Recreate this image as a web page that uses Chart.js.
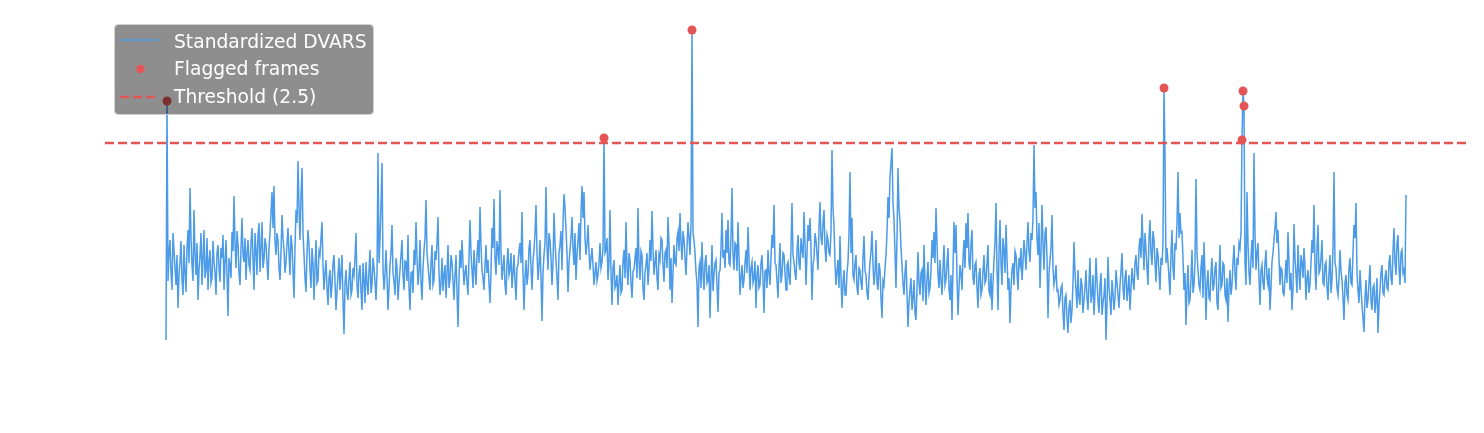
<!DOCTYPE html>
<html>
<head>
<meta charset="utf-8">
<script src="https://cdn.jsdelivr.net/npm/chart.js@4/dist/chart.umd.min.js"></script>
<style>
  html, body { margin: 0; padding: 0; background: #ffffff; }
  #wrap { position: relative; width: 1484px; height: 433px; }
  #c { position: absolute; left: 0; top: 0; }
  #leg { position: absolute; left: 0; top: 0; pointer-events: none; }
</style>
</head>
<body>
<div id="wrap">
  <canvas id="c" width="1484" height="433"></canvas>
  <svg id="leg" width="1484" height="433" xmlns="http://www.w3.org/2000/svg"></svg>
</div>
<script>
// ---- data (one value per frame) ----
const dvarsValues = [
0.53,2.92,1.12,1.40,1.53,1.20,1.03,1.60,1.43,1.25,1.08,1.38,0.85,1.18,1.31,1.52,1.13,0.98,1.48,1.20,
1.01,1.45,1.63,1.30,2.05,1.55,1.28,1.12,1.83,1.40,1.18,1.50,0.93,1.22,1.38,1.60,1.08,1.35,1.63,1.15,
1.23,1.55,1.03,1.32,1.43,1.10,1.15,1.52,1.31,1.20,0.98,1.40,1.48,1.25,1.11,1.45,1.35,1.58,1.03,1.30,
1.53,1.18,0.77,1.35,1.28,1.15,1.61,1.42,1.97,1.50,1.25,1.62,1.48,1.20,1.08,1.45,1.75,1.38,1.31,1.55,
1.13,1.40,1.53,1.28,1.23,1.50,1.65,1.35,1.03,1.60,1.43,1.18,1.58,1.70,1.21,1.46,1.71,1.25,1.33,1.55,
1.48,1.30,1.13,1.45,1.61,1.80,2.01,1.65,2.07,1.52,1.38,1.60,1.53,1.25,1.13,1.42,1.78,1.55,1.43,1.20,
1.31,1.50,1.65,1.40,1.18,1.58,1.48,1.22,0.95,1.45,1.83,1.70,2.32,1.85,1.53,1.98,2.25,1.60,1.38,1.15,
1.01,1.40,1.63,1.48,1.23,1.05,1.45,1.30,0.93,1.25,1.53,1.10,1.13,1.42,1.38,1.55,1.71,1.28,1.03,1.20,
1.33,1.05,0.88,1.15,1.23,0.95,1.08,1.30,1.38,1.12,0.83,1.02,1.18,1.35,1.03,1.20,1.38,0.92,0.59,1.10,
1.23,1.00,0.93,1.15,1.31,0.98,1.03,1.25,1.18,1.35,1.60,1.08,0.95,1.20,1.28,1.02,0.83,1.30,1.13,0.90,
1.31,1.10,0.98,1.22,1.43,1.00,1.08,1.35,1.25,1.12,0.93,1.20,2.40,1.30,1.53,1.90,2.30,1.25,1.03,1.18,
1.43,1.15,0.83,1.05,1.28,1.40,1.68,1.20,1.11,0.98,1.35,1.25,0.93,1.10,1.23,1.38,1.53,1.18,1.03,1.32,
1.31,1.12,1.58,1.05,0.83,1.20,1.21,1.00,1.43,1.28,1.71,1.35,1.08,1.22,1.53,1.10,0.93,1.25,1.43,1.55,
1.93,1.40,1.28,1.15,1.03,1.30,1.48,1.08,1.13,1.42,1.33,1.50,1.76,1.20,0.98,1.10,1.35,1.02,1.18,1.28,
0.95,1.20,1.48,1.05,1.13,1.38,1.31,1.12,0.93,1.18,1.38,1.00,0.66,1.15,1.43,1.25,1.53,1.30,1.08,1.20,
1.28,1.10,0.98,1.35,1.73,1.40,1.23,1.05,1.43,1.25,1.08,1.38,1.53,1.30,1.86,1.48,1.23,1.15,1.03,1.28,
1.48,1.20,1.33,1.10,0.90,1.22,1.65,1.45,1.94,1.35,1.18,1.52,1.43,1.28,2.03,1.40,1.13,1.25,1.38,1.08,
0.98,1.30,1.45,1.18,1.23,1.40,1.05,1.20,1.38,1.12,0.93,1.25,1.28,1.42,1.50,1.30,1.81,1.20,0.83,1.15,
1.33,1.08,1.18,1.45,1.53,1.25,1.03,1.32,1.43,1.60,1.88,1.40,1.13,1.28,1.53,1.15,0.72,1.20,1.38,1.50,
2.06,1.45,1.23,1.60,1.53,1.35,1.08,1.30,1.80,1.50,1.33,1.15,0.93,1.40,1.48,1.62,1.23,1.70,1.99,1.85,
1.63,1.40,1.01,1.30,1.43,1.55,1.76,1.45,1.28,1.60,1.13,1.38,1.53,1.70,1.33,1.80,2.07,1.75,2.01,1.55,
1.38,1.50,1.68,1.42,1.23,1.35,1.45,1.28,1.08,1.20,1.31,1.12,1.18,1.30,1.50,1.25,1.31,1.45,2.55,1.40,
1.43,1.55,1.13,1.30,1.83,1.20,0.88,1.25,1.33,1.05,1.08,1.18,0.88,1.10,1.28,1.00,1.03,1.32,1.43,1.15,
1.71,1.25,1.08,1.40,1.33,1.10,0.95,1.22,1.23,1.35,1.45,1.15,1.85,1.30,1.13,1.42,1.38,1.05,0.93,1.20,
1.28,1.40,1.08,1.25,1.53,1.32,1.82,1.45,1.18,1.30,1.43,1.15,1.03,1.38,1.33,1.55,1.53,1.28,1.11,1.40,
1.43,1.25,1.76,1.48,1.03,1.35,0.90,1.20,1.48,1.30,1.28,1.55,1.61,1.42,1.80,1.50,1.33,1.62,1.53,1.35,
1.18,1.45,1.71,1.55,1.38,1.70,3.63,1.60,1.53,1.40,1.21,1.10,0.66,1.25,1.31,1.05,1.51,1.20,1.03,1.30,
1.38,1.10,1.13,1.28,0.75,1.15,1.48,1.02,1.18,1.30,1.33,1.08,0.81,1.20,1.23,1.45,1.80,1.35,1.43,1.25,
1.63,1.40,1.73,1.30,1.28,1.55,2.05,1.38,1.23,1.50,1.48,1.22,1.71,1.35,0.98,1.15,1.28,1.05,1.13,1.30,
1.43,1.20,1.66,1.35,1.03,1.25,1.31,1.10,1.15,1.32,0.85,1.18,1.28,1.05,1.08,1.30,1.38,1.15,0.80,1.22,
1.23,1.05,1.43,1.20,1.08,1.35,1.58,1.45,1.88,1.30,1.28,1.12,0.95,1.25,1.50,1.10,1.18,1.40,1.38,1.20,
1.03,1.28,1.31,1.15,1.08,1.45,1.90,1.38,1.31,1.20,1.13,1.42,1.58,1.30,1.23,1.55,1.43,1.35,1.81,1.50,
1.08,1.40,1.68,1.52,1.75,1.45,0.93,1.28,1.35,1.60,1.53,1.38,1.23,1.65,1.91,1.55,1.48,1.70,1.83,1.45,
1.31,1.58,1.53,1.40,1.38,1.62,2.43,1.85,1.68,1.30,1.08,1.22,1.33,1.05,1.57,1.15,0.85,1.10,1.23,0.98,
0.98,1.20,1.31,1.60,2.21,1.40,1.75,1.18,1.13,1.30,1.38,1.05,0.98,1.25,1.23,1.10,1.03,1.35,1.57,1.22,
1.18,1.00,0.93,1.15,1.31,1.42,1.62,1.28,1.08,1.20,1.53,1.10,1.03,1.30,1.23,0.95,0.75,1.12,1.08,1.25,
1.38,1.60,1.96,1.75,2.16,2.30,2.45,1.90,1.75,1.40,1.05,1.55,2.25,1.85,1.71,1.45,1.28,1.10,0.98,1.20,
1.33,1.00,0.66,0.90,1.03,1.15,0.83,0.95,1.13,0.80,0.73,1.05,1.41,1.10,0.98,1.20,1.23,0.92,1.48,1.10,
0.88,1.15,1.31,1.00,1.05,1.22,1.53,1.35,1.61,1.30,1.85,1.50,1.18,1.05,1.33,1.12,0.98,1.25,1.48,1.08,
1.13,1.30,1.45,1.05,0.93,1.18,0.73,1.25,1.71,1.40,1.68,1.15,0.78,1.05,1.28,1.20,1.03,1.35,1.53,1.25,
1.70,1.45,1.80,1.30,1.23,1.50,1.63,1.15,1.08,1.28,1.31,1.05,0.85,1.18,1.25,0.98,1.03,1.22,1.38,1.10,
1.13,1.30,1.48,1.02,0.98,1.20,0.83,1.10,1.33,1.50,1.90,1.25,0.83,1.40,1.73,1.30,1.08,1.55,1.43,1.20,
1.68,1.35,1.03,1.15,0.70,1.05,1.23,1.30,1.08,1.42,1.38,1.20,1.03,1.35,1.28,1.45,1.13,1.30,1.53,1.40,
1.23,1.50,1.71,1.42,1.31,1.60,1.53,1.75,2.48,1.85,2.01,1.55,1.38,1.70,1.05,1.40,1.88,1.50,1.23,1.60,
1.66,1.35,0.75,1.20,1.33,1.45,1.78,1.25,1.08,1.15,1.28,1.02,1.03,0.88,0.93,1.05,1.08,0.80,0.63,0.95,
0.98,0.75,0.60,0.85,0.93,0.70,0.83,1.10,1.51,1.20,1.03,0.85,1.23,0.95,0.88,1.15,1.08,0.80,0.93,1.05,
1.23,0.95,0.83,1.10,1.35,0.90,0.98,1.18,0.78,1.00,1.35,1.12,0.93,0.80,1.08,1.20,0.78,0.90,0.98,1.15,
0.53,0.88,1.36,1.05,0.93,0.78,1.13,1.00,0.83,0.95,1.23,1.10,0.98,0.85,1.08,1.22,1.40,1.05,0.93,1.15,
1.23,0.92,1.03,1.18,0.83,1.05,1.25,1.12,1.03,1.30,1.38,1.20,1.13,1.45,1.55,1.35,1.79,1.50,1.23,1.60,
1.43,1.25,1.08,1.55,1.73,1.40,1.28,1.62,1.53,1.30,1.11,1.45,1.38,1.20,1.03,1.35,1.28,1.50,3.05,2.36,
1.30,1.45,1.31,1.15,0.98,1.40,1.63,1.25,1.13,1.50,1.43,1.70,2.21,1.55,1.80,1.60,1.61,1.35,1.03,1.20,
0.68,1.05,1.28,0.90,0.93,1.15,1.43,1.00,1.08,1.30,2.14,1.40,1.23,1.08,1.03,1.25,1.38,0.95,1.51,1.18,
0.73,1.10,1.23,0.95,0.93,1.20,1.35,1.02,1.08,1.25,1.31,0.90,0.83,1.15,1.48,1.05,1.08,1.30,1.28,0.98,
0.93,1.15,0.71,1.05,1.23,0.98,1.08,1.30,1.48,1.20,1.03,1.35,1.28,1.50,1.45,1.60,2.53,3.02,2.87,1.30,
1.08,2.01,1.50,1.20,1.08,1.35,1.53,1.25,2.40,1.60,1.23,1.40,1.50,1.15,0.88,1.22,1.28,1.10,1.03,1.30,
1.43,1.15,1.08,1.25,0.83,1.05,1.31,1.40,1.53,1.65,1.81,1.50,1.63,1.35,1.08,1.25,1.23,1.00,0.98,1.15,
1.33,1.10,1.61,1.30,1.03,1.20,0.83,1.05,1.69,1.35,1.18,1.00,1.48,1.22,1.03,1.38,1.31,1.15,1.45,1.25,
0.93,1.15,1.23,1.00,1.08,1.30,1.53,1.40,1.88,1.25,1.03,1.45,1.68,1.20,1.23,1.35,1.53,1.10,1.08,1.28,
1.31,1.05,0.93,1.20,1.38,1.00,1.13,1.45,2.21,1.30,1.25,1.05,0.98,1.15,1.43,1.22,1.13,0.95,0.73,1.10,
1.18,0.98,0.93,1.25,1.35,1.10,1.08,1.40,1.68,1.55,1.90,1.20,1.03,0.90,1.23,1.05,0.88,0.75,0.61,0.95,
1.13,0.85,0.93,1.10,1.28,0.92,0.83,1.05,1.08,0.80,0.93,1.15,0.60,0.88,1.03,1.20,1.28,1.00,0.98,1.15,
1.23,1.05,1.03,1.30,1.38,1.15,1.08,1.42,1.65,1.30,1.18,1.50,1.58,1.25,1.08,1.40,1.43,1.20,1.23,1.10,
1.98
];
const flaggedFrames = [1, 438, 526, 998, 1076, 1077, 1078];
const thresholdValue = 2.5;
const legendLabels = ["Standardized DVARS", "Flagged frames", "Threshold (2.5)"];

// ---- styling ----
const BLUE = "#4c9be8";
const RED = "#e25656";
const lastFrame = dvarsValues.length - 1;
const xPad = lastFrame * 0.0492;
const xMin = -xPad, xMax = lastFrame + xPad;

const seriesPoints = dvarsValues.map((v, i) => ({ x: i, y: v }));
const flaggedPoints = flaggedFrames.map(i => ({ x: i, y: dvarsValues[i] }));
const thresholdPoints = [{ x: xMin, y: thresholdValue }, { x: xMax, y: thresholdValue }];

new Chart(document.getElementById("c"), {
  type: "line",
  data: {
    datasets: [
      { label: legendLabels[1], type: "scatter", data: flaggedPoints, order: 0,
        pointRadius: 4.5, pointBackgroundColor: RED, pointBorderWidth: 0, showLine: false },
      { label: legendLabels[2], data: thresholdPoints, order: 1, borderColor: RED,
        borderWidth: 2.3, borderDash: [9, 4], pointRadius: 0, fill: false },
      { label: legendLabels[0], data: seriesPoints, order: 2, borderColor: BLUE,
        borderWidth: 1.5, pointRadius: 0, tension: 0, fill: false }
    ]
  },
  options: {
    responsive: false,
    devicePixelRatio: 1,
    animation: false,
    events: [],
    layout: { autoPadding: false, padding: { left: 105, right: 17, top: 0, bottom: 40 } },
    plugins: { legend: { display: false }, tooltip: { enabled: false }, title: { display: false } },
    scales: {
      x: { type: "linear", min: xMin, max: xMax, display: false },
      y: { type: "linear", min: 0, max: 3.93, display: false }
    }
  }
});

// ---- legend overlay (semi-transparent box drawn above the plot) ----
const NS = "http://www.w3.org/2000/svg";
const svg = document.getElementById("leg");
function el(tag, attrs, text) {
  const e = document.createElementNS(NS, tag);
  for (const k in attrs) e.setAttribute(k, attrs[k]);
  if (text !== undefined) e.textContent = text;
  svg.appendChild(e);
  return e;
}
el("rect", { x: 114.5, y: 24.5, width: 259, height: 90, rx: 4, ry: 4,
  fill: "rgba(0,0,0,0.445)", stroke: "rgba(210,210,210,0.9)", "stroke-width": 1 });
el("line", { x1: 120, y1: 40, x2: 159, y2: 40, stroke: BLUE, "stroke-width": 1.5 });
el("circle", { cx: 140.5, cy: 69, r: 4.3, fill: RED });
el("line", { x1: 120, y1: 97, x2: 159, y2: 97, stroke: RED, "stroke-width": 2.3, "stroke-dasharray": "9 4" });
const rowsY = [47.5, 75, 102.5];
legendLabels.forEach((t, k) => {
  el("text", { x: 174, y: rowsY[k], "font-family": "DejaVu Sans", "font-size": 18.7, fill: "#ffffff" }, t);
});
</script>
</body>
</html>
